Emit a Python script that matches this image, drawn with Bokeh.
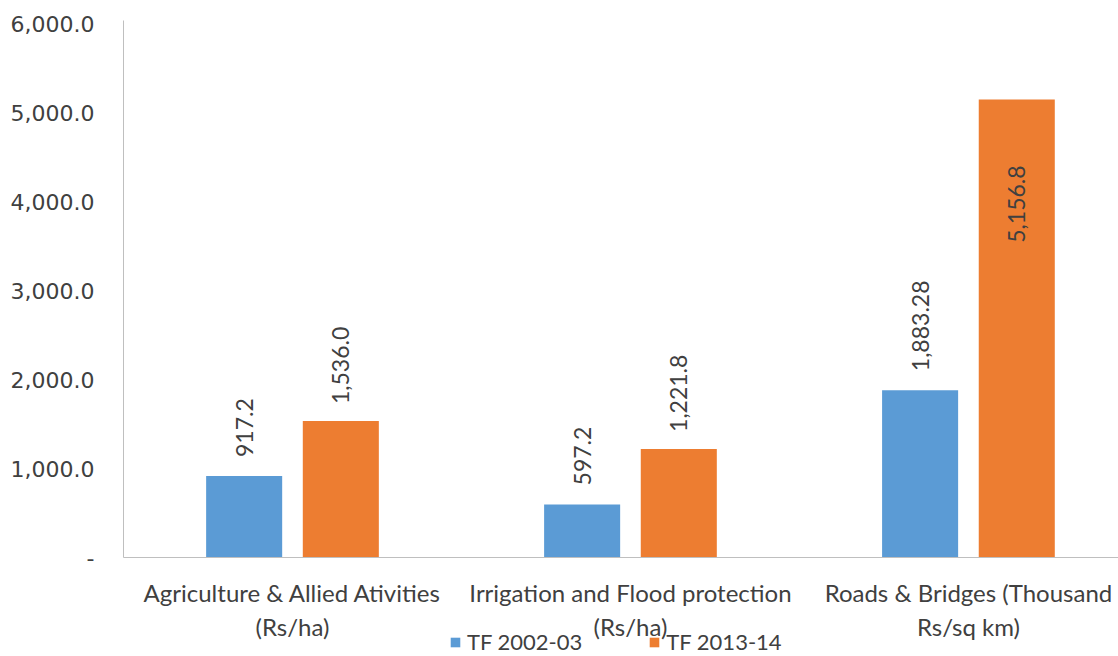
import math

from bokeh.core.properties import value
from bokeh.embed import file_html
from bokeh.layouts import column
from bokeh.models import (ColumnDataSource, FixedTicker, Legend, LegendItem,
                          NumeralTickFormatter, Range1d)
from bokeh.plotting import figure
from bokeh.resources import INLINE

# ---- data -------------------------------------------------------------
categories = [
    "Agriculture & Allied Ativities\n(Rs/ha)",
    "Irrigation and Flood protection\n(Rs/ha)",
    "Roads & Bridges (Thousand\nRs/sq km)",
]
series_names = ["TF 2002-03", "TF 2013-14"]
tf_2002_03 = [917.2, 597.2, 1883.28]
tf_2013_14 = [1536.0, 1221.8, 5156.8]
labels_2002_03 = ["917.2", "597.2", "1,883.28"]
labels_2013_14 = ["1,536.0", "1,221.8", "5,156.8"]
y_ticks = [0, 1000, 2000, 3000, 4000, 5000, 6000]

# ---- styling ----------------------------------------------------------
BLUE = "#5b9bd5"
ORANGE = "#ed7d31"
TEXT = "#404040"
AXIS = "#bfbfbf"
CAT_FONT = "Lato"
NUM_FONT = "Lato"

centers = [i + 0.5 for i in range(len(categories))]
offset = 0.143
bar_w = 0.225

p = figure(
    width=1118, height=644,
    x_range=Range1d(0, 2.944), y_range=Range1d(0, 6045),
    output_backend="svg", toolbar_location=None,
    min_border_left=123, min_border_right=0, min_border_top=20,
    min_border_bottom=60,
    outline_line_color=None, background_fill_color="white",
    border_fill_color="white",
)
p.xgrid.visible = False
p.ygrid.visible = False

src_a = ColumnDataSource(dict(
    x=[c - offset for c in centers], top=tf_2002_03, label=labels_2002_03))
src_b = ColumnDataSource(dict(
    x=[c + offset for c in centers], top=tf_2013_14, label=labels_2013_14))

p.vbar(x="x", top="top", width=bar_w, bottom=0, source=src_a,
       fill_color=BLUE, line_color=None)
p.vbar(x="x", top="top", width=bar_w, bottom=0, source=src_b,
       fill_color=ORANGE, line_color=None)

# value labels, rotated; the tallest bar carries its label inside the bar
inside = [v > 5000 for v in tf_2013_14]
src_b_out = ColumnDataSource(dict(
    x=[x for x, i in zip(src_b.data["x"], inside) if not i],
    y=[v for v, i in zip(tf_2013_14, inside) if not i],
    label=[l for l, i in zip(labels_2013_14, inside) if not i]))
src_b_in = ColumnDataSource(dict(
    x=[x for x, i in zip(src_b.data["x"], inside) if i],
    y=[v for v, i in zip(tf_2013_14, inside) if i],
    label=[l for l, i in zip(labels_2013_14, inside) if i]))

common = dict(text="label", angle=math.pi / 2, text_baseline="middle",
              text_font=value(NUM_FONT), text_font_size="23px",
              text_color=TEXT)
p.text(x="x", y="top", source=src_a, text_align="left", y_offset=-19, **common)
p.text(x="x", y="y", source=src_b_out, text_align="left", y_offset=-17, **common)
p.text(x="x", y="y", source=src_b_in, text_align="right", y_offset=66, **common)

# axes
p.xaxis.ticker = FixedTicker(ticks=centers)
p.xaxis.major_label_overrides = {c: lab for c, lab in zip(centers, categories)}
p.xaxis.major_tick_line_color = None
p.xaxis.minor_tick_line_color = None
p.xaxis.axis_line_color = AXIS
p.xaxis.major_label_text_font = CAT_FONT
p.xaxis.major_label_text_font_size = "24px"
p.xaxis.major_label_text_color = TEXT
p.xaxis.major_label_standoff = 14

p.yaxis.ticker = FixedTicker(ticks=y_ticks)
p.yaxis.formatter = NumeralTickFormatter(format="0,0.0")
p.yaxis.major_label_overrides = {0: "-"}
p.yaxis.major_tick_line_color = None
p.yaxis.minor_tick_line_color = None
p.yaxis.axis_line_color = AXIS
p.yaxis.major_label_text_font = "DejaVu Sans"
p.yaxis.major_label_text_font_size = "22px"
p.yaxis.major_label_text_color = TEXT
p.yaxis.major_label_standoff = 23

# legend strip underneath the chart, tucked up under the category labels
leg = figure(
    width=1118, height=34, x_range=Range1d(0, 1), y_range=Range1d(0, 1),
    output_backend="svg", toolbar_location=None,
    min_border=0, outline_line_color=None,
    x_axis_type=None, y_axis_type=None,
    background_fill_alpha=0, border_fill_alpha=0,
    margin=(-22, 0, 0, 0),
)
leg.xgrid.visible = False
leg.ygrid.visible = False
key_a = leg.vbar(x=[9], top=[1], width=0.1, fill_color=BLUE, line_color=None)
key_b = leg.vbar(x=[9], top=[1], width=0.1, fill_color=ORANGE, line_color=None)
legend = Legend(
    items=[LegendItem(label=series_names[0], renderers=[key_a]),
           LegendItem(label=series_names[1], renderers=[key_b])],
    orientation="horizontal", location=(326, 1),
    label_text_font=CAT_FONT, label_text_font_size="22px",
    label_text_color=TEXT, glyph_width=12, glyph_height=12,
    label_standoff=6, spacing=66, padding=0, margin=0,
    label_height=22, border_line_color=None, background_fill_alpha=0,
)
leg.add_layout(legend, "center")

layout = column(p, leg, spacing=0)
open("out.html", "w").write(file_html(layout, INLINE))
